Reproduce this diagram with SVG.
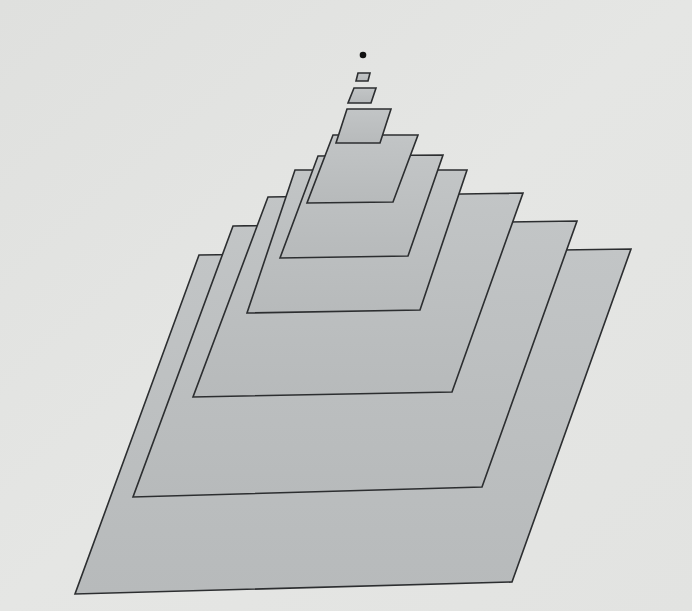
<svg xmlns="http://www.w3.org/2000/svg" width="692" height="611" viewBox="0 0 692 611">
  <defs>
    <linearGradient id="bg" x1="0" y1="0" x2="1" y2="1">
      <stop offset="0" stop-color="#dfe0de"/>
      <stop offset="0.5" stop-color="#e5e6e4"/>
      <stop offset="1" stop-color="#e2e3e1"/>
    </linearGradient>
    <linearGradient id="fillg" x1="0" y1="0" x2="0" y2="1">
      <stop offset="0" stop-color="#c2c5c6"/>
      <stop offset="1" stop-color="#b7babb"/>
    </linearGradient>
  </defs>
  <style>
    .sheet { fill: url(#fillg); stroke: #2c2e30; stroke-width: 1.6; stroke-linejoin: miter; }
  </style>
  <rect x="0" y="0" width="692" height="611" fill="url(#bg)"/>
  <g id="sheet1"><polygon class="sheet" points="199,255 631,249 512,582 75,594"/></g>
  <g id="sheet2"><polygon class="sheet" points="233,226 577,221 482,487 133,497"/></g>
  <g id="sheet3"><polygon class="sheet" points="268,197 523,193 452,392 193,397"/></g>
  <g id="sheet4"><polygon class="sheet" points="295,170 467,170 420,310 247,313"/></g>
  <g id="sheet5"><polygon class="sheet" points="318,156 443,155 408,256 280,258"/></g>
  <g id="sheet6"><polygon class="sheet" points="333,135 418,135 393,202 307,203"/></g>
  <g id="sheet7"><polygon class="sheet" points="347,109 391,109 380,143 336,143"/></g>
  <g id="sheet8"><polygon class="sheet" points="354,88 376,88 371,103 348,103"/></g>
  <g id="sheet9"><polygon class="sheet" points="358,73 370,73 368,81 356,81"/></g>
  <g id="dot"><circle cx="363" cy="55" r="3.3" fill="#111"/></g>
</svg>
